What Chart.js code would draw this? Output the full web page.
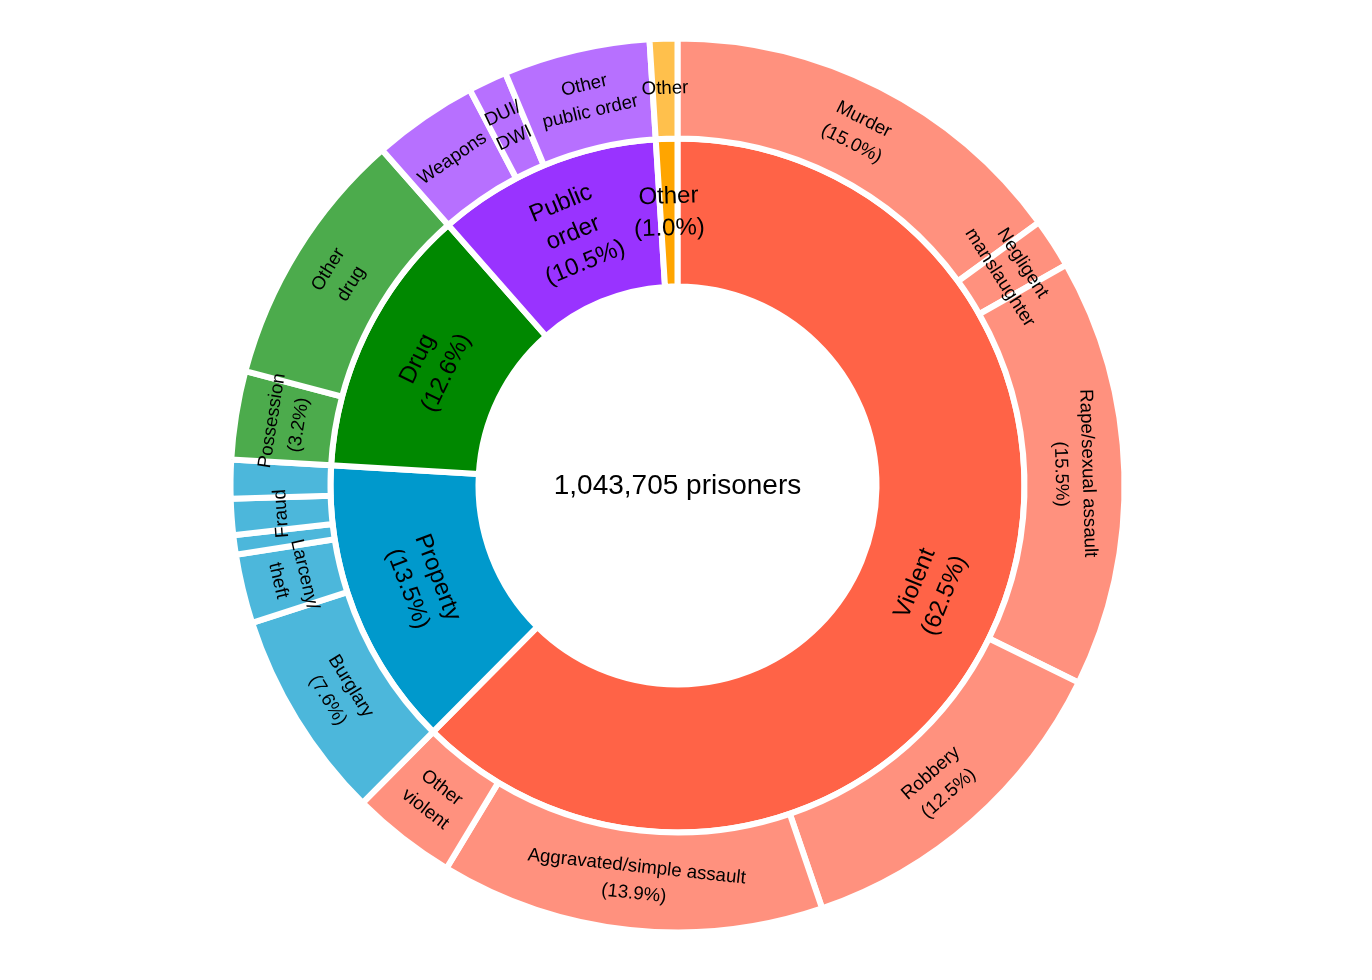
<!DOCTYPE html>
<html>
<head>
<meta charset="utf-8">
<script src="https://cdn.jsdelivr.net/npm/chart.js@4.4.1/dist/chart.umd.min.js"></script>
<style>
  html, body { margin: 0; padding: 0; background: #fff; }
  #wrap { width: 1372px; height: 980px; position: relative; }
</style>
</head>
<body>
<div id="wrap"><canvas id="sunburst"></canvas></div>
<script>
// inner ring: offense groups (share of prisoners, %)
const groups = ['Violent', 'Property', 'Drug', 'Public order', 'Other'];
const groupValues = [62.5, 13.5, 12.6, 10.5, 1.0];
const groupLabels = [
    ['Violent', '(62.5%)'],
    ['Property', '(13.5%)'],
    ['Drug', '(12.6%)'],
    ['Public', 'order', '(10.5%)'],
    ['Other', '(1.0%)']
];
const groupColors = ['255, 99, 71', '0, 153, 204', '0, 136, 0', '153, 51, 255', '255, 165, 0'];

// outer ring: offenses, in the same order round the circle
const offenses = [
    'Murder', 'Negligent manslaughter', 'Rape/sexual assault', 'Robbery', 'Aggravated/simple assault', 'Other violent',
    'Burglary', 'Larceny/theft', 'Motor vehicle theft', 'Fraud', 'Other property',
    'Possession', 'Other drug',
    'Weapons', 'DUI/DWI', 'Other public order',
    'Other'
];
const offenseValues = [
    15.0, 1.8, 15.5, 12.5, 13.9, 3.8,
    7.6, 2.5, 0.7, 1.3, 1.4,
    3.2, 9.4,
    3.8, 1.4, 5.3,
    1.0
];
const offenseGroup = [0, 0, 0, 0, 0, 0, 1, 1, 1, 1, 1, 2, 2, 3, 3, 3, 4];
const offenseLabels = [
    ['Murder', '(15.0%)'], ['Negligent', 'manslaughter'], ['Rape/sexual assault', '(15.5%)'],
    ['Robbery', '(12.5%)'], ['Aggravated/simple assault', '(13.9%)'], ['Other', 'violent'],
    ['Burglary', '(7.6%)'], ['Larceny/', 'theft'], [], ['Fraud'], [],
    ['Possession', '(3.2%)'], ['Other', 'drug'],
    ['Weapons'], ['DUI/', 'DWI'], ['Other', 'public order'],
    ['Other']
];
const totalPrisoners = '1,043,705 prisoners';

const FONT = '"Liberation Sans", Arial, sans-serif';

const ringLabels = {
    id: 'ringLabels',
    afterDatasetsDraw(chart) {
        const ctx = chart.ctx;
        const sets = [
            { lines: offenseLabels, size: 18.7, lh: 27 },
            { lines: groupLabels, size: 24, lh: 32 }
        ];
        ctx.save();
        ctx.fillStyle = '#000';
        ctx.textAlign = 'center';
        ctx.textBaseline = 'middle';
        sets.forEach((s, di) => {
            const meta = chart.getDatasetMeta(di);
            ctx.font = s.size + 'px ' + FONT;
            meta.data.forEach((arc, i) => {
                const lines = s.lines[i];
                if (!lines || !lines.length) return;
                const p = arc.getProps(['x', 'y', 'startAngle', 'endAngle', 'innerRadius', 'outerRadius'], true);
                const a = (p.startAngle + p.endAngle) / 2;
                const r = (p.innerRadius + p.outerRadius) / 2;
                let deg = ((a + Math.PI / 2) * 180 / Math.PI) % 360;
                if (deg < 0) deg += 360;
                let rot = deg;
                if (deg > 90 && deg < 262) rot -= 180;
                ctx.save();
                ctx.translate(p.x + Math.cos(a) * r, p.y + Math.sin(a) * r);
                ctx.rotate(rot * Math.PI / 180);
                lines.forEach((t, k) => {
                    ctx.fillText(t, 0, (k - (lines.length - 1) / 2) * s.lh);
                });
                ctx.restore();
            });
        });
        const m = chart.getDatasetMeta(0).data[0];
        ctx.font = '28px ' + FONT;
        ctx.fillText(totalPrisoners, m.x, m.y + 1);
        ctx.restore();
    }
};

new Chart(document.getElementById('sunburst'), {
    type: 'doughnut',
    data: {
        labels: offenses,
        datasets: [
            {
                label: 'Offense',
                data: offenseValues,
                backgroundColor: offenseGroup.map(g => `rgba(${groupColors[g]}, 0.7)`),
                borderColor: '#fff',
                borderWidth: 6,
                hoverBorderWidth: 6,
                weight: 100
            },
            {
                label: 'Group',
                data: groupValues,
                backgroundColor: groupColors.map(c => `rgb(${c})`),
                borderColor: '#fff',
                borderWidth: 6,
                hoverBorderWidth: 6,
                weight: 148
            }
        ]
    },
    options: {
        responsive: true,
        maintainAspectRatio: false,
        animation: false,
        events: [],
        cutout: '44.52%',
        layout: { padding: { left: 0, right: 17, top: 35.5, bottom: 44.5 } },
        plugins: {
            legend: { display: false },
            tooltip: { enabled: false }
        }
    },
    plugins: [ringLabels]
});
</script>
</body>
</html>
